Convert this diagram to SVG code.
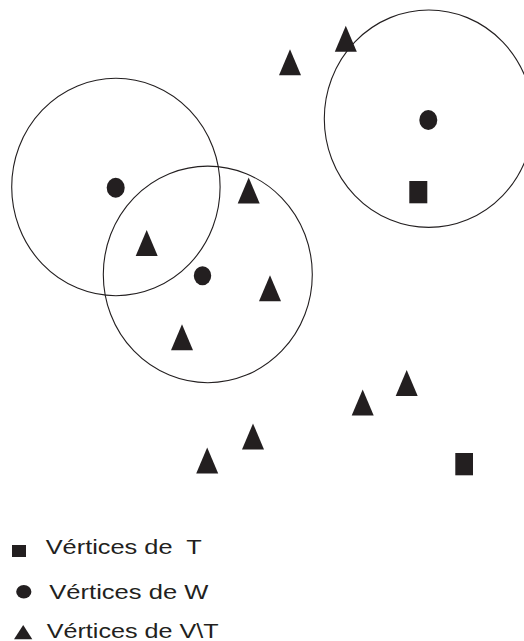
<svg xmlns="http://www.w3.org/2000/svg" width="524" height="641" viewBox="0 0 524 641">
<defs>
<style>
.ring{fill:none;stroke:#231f20;stroke-width:1.1}
.m{fill:#231f20}
.lbl{font-family:"Liberation Sans",Arial,sans-serif;font-size:19.5px;fill:#231f20}
</style>
<polygon id="tri" points="0,-13 11,13 -11,13"/>
</defs>
<rect width="524" height="641" fill="#fff"/>
<g id="circles">
<ellipse id="c1" class="ring" cx="115.9" cy="187" rx="104.2" ry="108.7"/>
<ellipse id="c2" class="ring" cx="207.8" cy="274.4" rx="104.5" ry="108.3"/>
<ellipse id="c3" class="ring" cx="428.8" cy="118.7" rx="104.5" ry="108.7"/>
</g>
<g id="W" class="m">
<ellipse id="w1" cx="115.7" cy="187.7" rx="9" ry="10"/>
<ellipse id="w2" cx="202.5" cy="275.7" rx="8.7" ry="9.5"/>
<ellipse id="w3" cx="428.3" cy="120" rx="9" ry="10"/>
</g>
<g id="T" class="m">
<rect id="t1" x="409.3" y="181" width="18" height="22.3"/>
<rect id="t2" x="455.3" y="453" width="17.7" height="22.3"/>
</g>
<g id="VT" class="m">
<use href="#tri" x="248.7" y="190.5"/>
<use href="#tri" x="146.7" y="243"/>
<use href="#tri" x="270" y="288.3"/>
<use href="#tri" x="182" y="337.3"/>
<use href="#tri" x="290" y="62.2"/>
<use href="#tri" x="345.8" y="38.7"/>
<use href="#tri" x="406.7" y="383"/>
<use href="#tri" x="362.7" y="402.5"/>
<use href="#tri" x="253" y="436.5"/>
<use href="#tri" x="207.2" y="460.5"/>
</g>
<g id="legend">
<g id="leg-T">
<rect class="m" x="12" y="545" width="14" height="12"/>
<text class="lbl" x="45.7" y="554.3" textLength="156" lengthAdjust="spacingAndGlyphs" xml:space="preserve">Vértices de  T</text>
</g>
<g id="leg-W">
<ellipse class="m" cx="23.8" cy="591.7" rx="7.6" ry="6.8"/>
<text class="lbl" x="49.3" y="599.3" textLength="159" lengthAdjust="spacingAndGlyphs">Vértices de W</text>
</g>
<g id="leg-VT">
<polygon class="m" points="23.2,625 32.3,639.3 14,639.3"/>
<text class="lbl" x="46.7" y="638.3" textLength="172" lengthAdjust="spacingAndGlyphs">Vértices de V\T</text>
</g>
</g>
</svg>
